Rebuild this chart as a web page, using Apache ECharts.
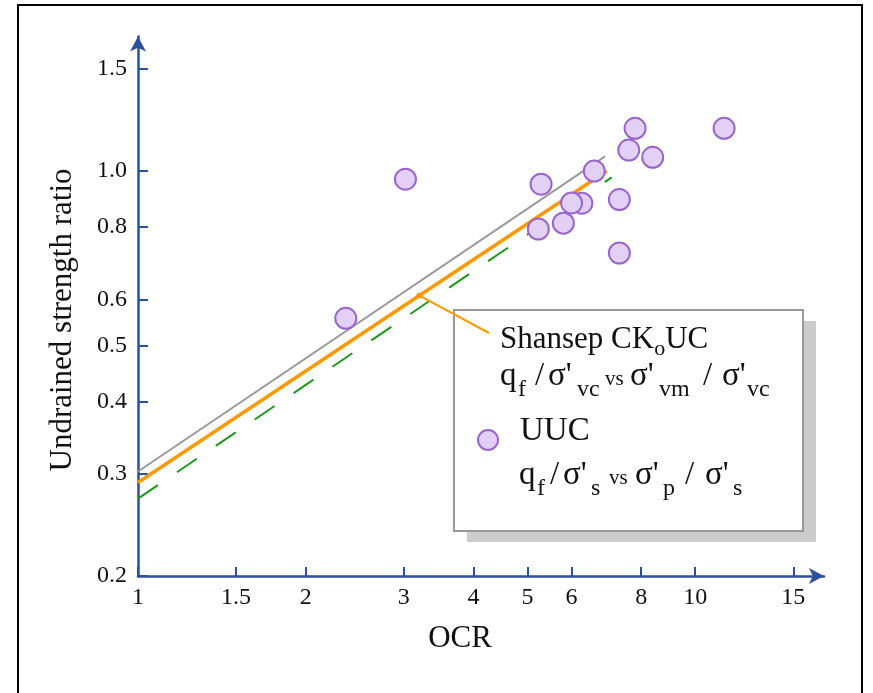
<!DOCTYPE html>
<html>
<head>
<meta charset="utf-8">
<script src="https://cdn.jsdelivr.net/npm/echarts@6/dist/echarts.min.js"></script>
<style>
  html, body { margin: 0; padding: 0; background: #fff; }
  #chart { width: 873px; height: 693px; }
</style>
</head>
<body>
<div id="chart"></div>
<script>
// Tick positions on the two logarithmic axes
const ocrTicks = [1, 1.5, 2, 3, 4, 5, 6, 8, 10, 15];
const ratioTicks = [0.2, 0.3, 0.4, 0.5, 0.6, 0.8, 1.0, 1.5];

// UUC tests: OCR and undrained strength ratio
const uucOCR   = [3.02, 5.29, 6.59, 7.80, 7.60, 8.39, 11.27, 7.31, 6.26, 6.00, 5.80, 5.23, 7.31, 2.36];
const uucRatio = [0.968, 0.949, 1.000, 1.185, 1.087, 1.056, 1.185, 0.893, 0.880, 0.881, 0.813, 0.794, 0.722, 0.557];

// SHANSEP CKoUC trend lines (end points)
const grayOCR    = [1, 6.89];
const grayRatio  = [0.303, 1.06];
const orangeOCR  = [1, 6.94];
const orangeRatio = [0.29, 1.0];
const greenOCR   = [1, 7.08];
const greenRatio = [0.272, 0.975];

// OCR value where the legend leader touches the orange line
const leaderOCR = 3.2;

const AXIS = '#2d4f9e';
const SERIF = '"Liberation Serif", "Times New Roman", serif';
const ORANGE = '#ff9900';
const INK = '#111';

const pairs = (xs, ys) => xs.map((x, i) => [x, ys[i]]);

const chart = echarts.init(document.getElementById('chart'), null, { renderer: 'canvas' });

chart.setOption({
  animation: false,
  backgroundColor: '#ffffff',
  grid: { left: 138, right: 49, top: 36.5, bottom: 117, containLabel: false },
  xAxis: {
    type: 'log',
    logBase: 10,
    min: 1,
    max: 17.03,
    axisLine: {
      show: true, onZero: false,
      symbol: ['none', 'arrow'], symbolSize: [12, 15],
      lineStyle: { color: AXIS, width: 2.5 }
    },
    axisTick: {
      show: true, inside: true, length: 9,
      customValues: ocrTicks,
      lineStyle: { color: AXIS, width: 2 }
    },
    axisLabel: {
      customValues: ocrTicks,
      margin: 10,
      fontFamily: SERIF, fontSize: 24, color: INK,
      formatter: v => {
        let best = ocrTicks[0];
        ocrTicks.forEach(t => { if (Math.abs(t - v) < Math.abs(best - v)) best = t; });
        return String(best);
      }
    },
    splitLine: { show: false },
    minorTick: { show: false }
  },
  yAxis: {
    type: 'log',
    logBase: 10,
    min: 0.2,
    max: 1.707,
    axisLine: {
      show: true, onZero: false,
      symbol: ['none', 'arrow'], symbolSize: [12, 15],
      lineStyle: { color: AXIS, width: 2.5 }
    },
    axisTick: {
      show: true, inside: true, length: 10,
      customValues: ratioTicks,
      lineStyle: { color: AXIS, width: 2 }
    },
    axisLabel: {
      customValues: ratioTicks,
      margin: 11,
      fontFamily: SERIF, fontSize: 24, color: INK,
      formatter: v => Number(v).toFixed(1)
    },
    splitLine: { show: false },
    minorTick: { show: false }
  },
  series: [
    {
      name: 'gray', type: 'line', data: pairs(grayOCR, grayRatio),
      symbol: 'none', z: 2,
      lineStyle: { color: '#9a9a9a', width: 2 }
    },
    {
      name: 'Shansep CKoUC', type: 'line', data: pairs(orangeOCR, orangeRatio),
      symbol: 'none', z: 3,
      lineStyle: { color: ORANGE, width: 3.5 }
    },
    {
      name: 'green', type: 'line', data: pairs(greenOCR, greenRatio),
      symbol: 'none', z: 2,
      lineStyle: { color: '#1a9a1a', width: 2, type: [24, 23] }
    },
    {
      name: 'UUC', type: 'scatter', data: pairs(uucOCR, uucRatio),
      symbol: 'circle', symbolSize: 21, z: 5,
      itemStyle: { color: '#e2d0f5', borderColor: '#9966cc', borderWidth: 2, opacity: 1 }
    }
  ]
});

// Point on the orange line (interpolated in log space) used as the leader anchor
const lx0 = Math.log10(orangeOCR[0]), lx1 = Math.log10(orangeOCR[1]);
const ly0 = Math.log10(orangeRatio[0]), ly1 = Math.log10(orangeRatio[1]);
const tLead = (Math.log10(leaderOCR) - lx0) / (lx1 - lx0);
const leaderRatio = Math.pow(10, ly0 + tLead * (ly1 - ly0));
const anchor = chart.convertToPixel({ gridIndex: 0 }, [leaderOCR, leaderRatio]);

// Text pieces of the legend, placed on a shared baseline.
// Canvas 'middle' sits about 0.3375 em above the baseline for this face.
const SIZE = { m: 33, s: 24, v: 21 };
const DROP = { m: 0, s: 11, v: 0 };
function piece(text, x, baseline, kind) {
  const size = SIZE[kind];
  return {
    type: 'text', x: x, y: baseline + DROP[kind] - 0.3375 * size, z: 100,
    style: { text: text, fontFamily: SERIF, fontSize: size, fill: INK,
             align: 'left', verticalAlign: 'middle' }
  };
}
function formula(x0, baseline, parts) {
  return parts.map(p => piece(p[0], x0 + p[1], baseline, p[2]));
}

const legendTitle = {
  type: 'text', x: 500, y: 340, z: 100,
  style: {
    text: '{m|Shansep CK}{s|o}{m|UC}',
    rich: {
      m: { fontFamily: SERIF, fontSize: 31, lineHeight: 40, fill: INK },
      s: { fontFamily: SERIF, fontSize: 22, lineHeight: 40, fill: INK, padding: [18, 0, 0, 0] }
    },
    fontFamily: SERIF, fontSize: 31, fill: INK, align: 'left', verticalAlign: 'middle'
  }
};

chart.setOption({
  graphic: [
    // outer frame
    { type: 'rect', z: 0, silent: true,
      shape: { x: 18, y: 5, width: 844, height: 720 },
      style: { fill: 'none', stroke: '#000', lineWidth: 2 } },
    // axis titles
    { type: 'text', x: 63, y: 320, rotation: Math.PI / 2, z: 50,
      style: { text: 'Undrained strength ratio', fontFamily: SERIF, fontSize: 31, fill: INK,
               align: 'center', verticalAlign: 'middle' } },
    { type: 'text', x: 460, y: 639, z: 50,
      style: { text: 'OCR', fontFamily: SERIF, fontSize: 31, fill: INK,
               align: 'center', verticalAlign: 'middle' } },
    // legend box with drop shadow
    { type: 'rect', z: 90, shape: { x: 467, y: 321, width: 349, height: 221 },
      style: { fill: '#cccccc' } },
    { type: 'rect', z: 91, shape: { x: 454, y: 310, width: 349, height: 221 },
      style: { fill: '#ffffff', stroke: '#999999', lineWidth: 2 } },
    // leader from the orange line to the legend entry
    { type: 'line', z: 95, shape: { x1: anchor[0], y1: anchor[1], x2: 489, y2: 333 },
      style: { stroke: ORANGE, lineWidth: 2 } },
    { type: 'circle', z: 96, shape: { cx: anchor[0], cy: anchor[1], r: 3 },
      style: { fill: ORANGE } },
    legendTitle,
    ...formula(500, 387, [
      ['q', 0, 'm'], ['f', 18, 's'], ['/', 35, 'm'], ["σ'", 48, 'm'], ['vc', 77, 's'],
      ['vs', 105, 'v'], ["σ'", 130, 'm'], ['vm', 159, 's'], ['/', 203, 'm'],
      ["σ'", 222, 'm'], ['vc', 247, 's']
    ]),
    { type: 'circle', z: 100, shape: { cx: 488, cy: 440, r: 10 },
      style: { fill: '#e2d0f5', stroke: '#9966cc', lineWidth: 2 } },
    piece('UUC', 520, 442, 'm'),
    ...formula(519, 486, [
      ['q', 0, 'm'], ['f', 18, 's'], ['/', 31, 'm'], ["σ'", 44, 'm'], ['s', 72, 's'],
      ['vs', 90, 'v'], ["σ'", 116, 'm'], ['p', 144, 's'], ['/', 166, 'm'],
      ["σ'", 186, 'm'], ['s', 214, 's']
    ])
  ]
});
</script>
</body>
</html>
